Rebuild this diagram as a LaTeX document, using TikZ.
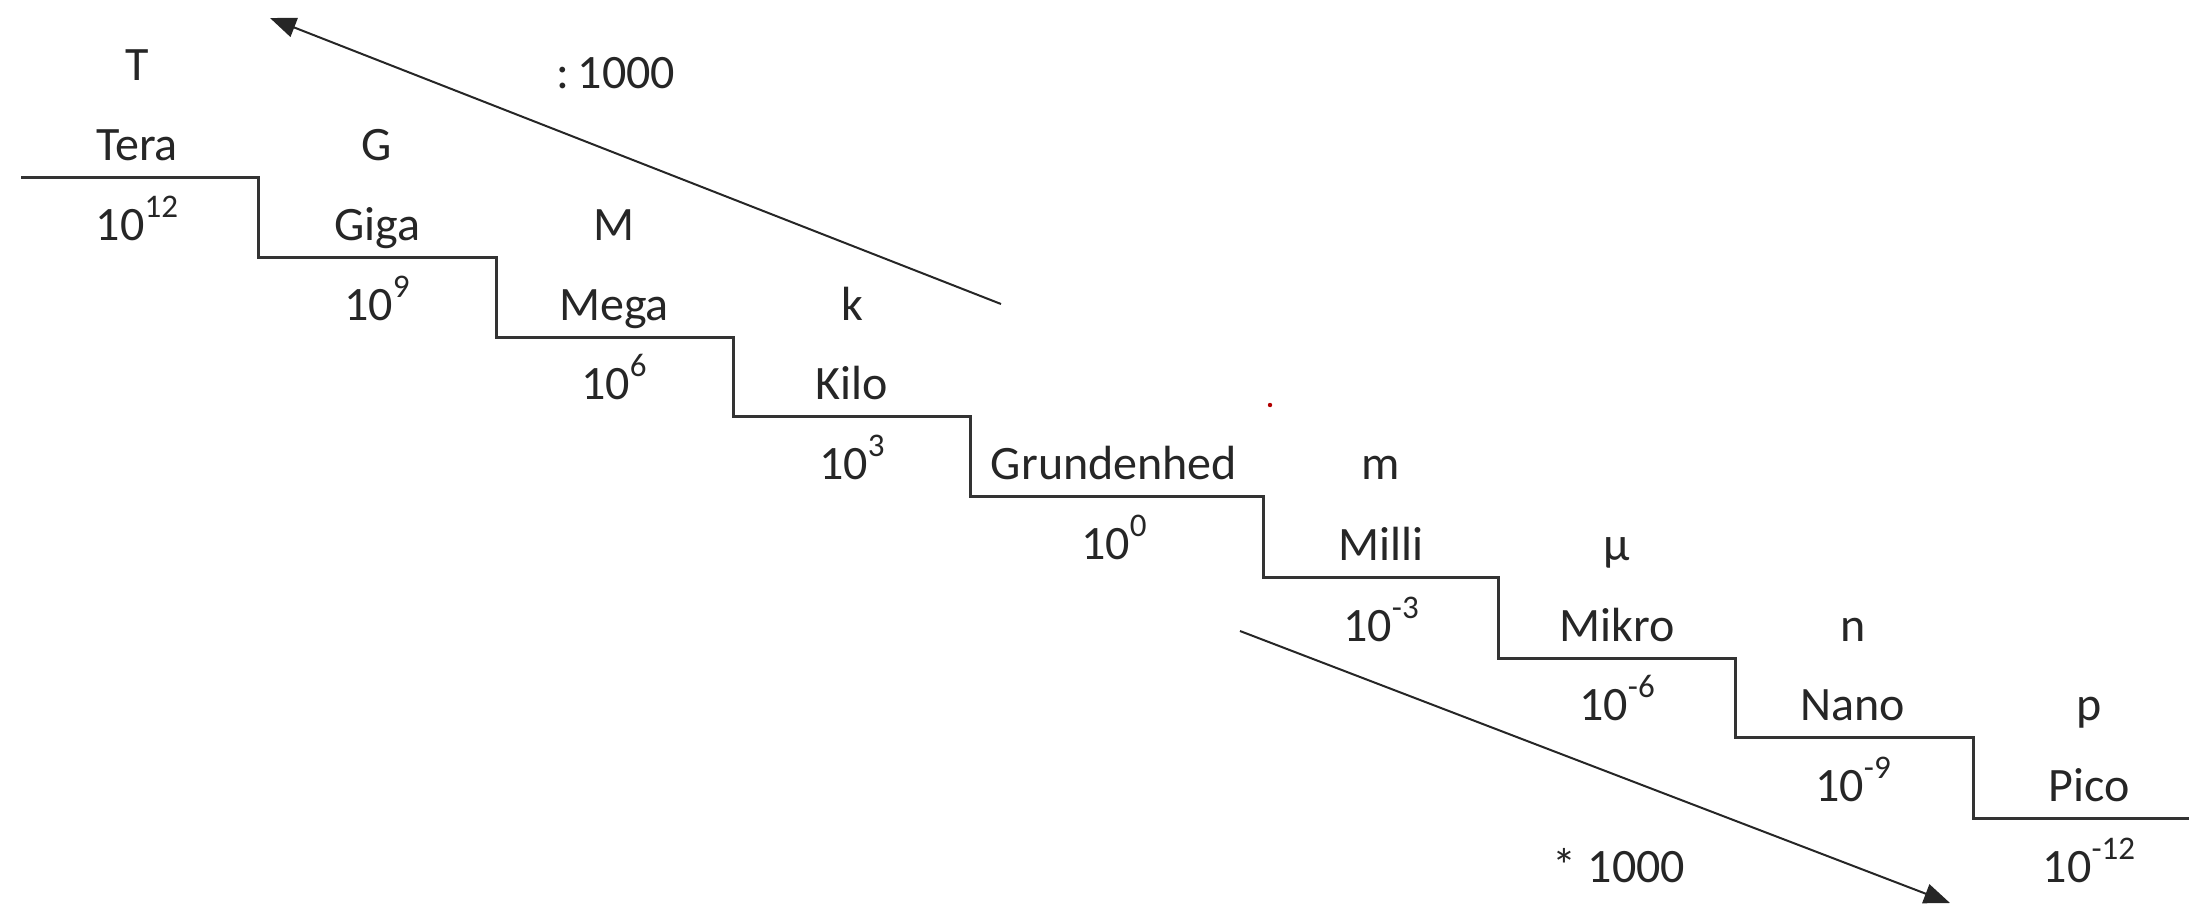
\documentclass[tikz,border=0pt]{standalone}
\usepackage{fontspec}
\setmainfont{Carlito}
\usetikzlibrary{arrows.meta}
\newcommand{\mysup}[1]{\raisebox{23pt}{\fontsize{33}{33}\selectfont #1}}
\begin{document}
\begin{tikzpicture}[x=1pt,y=-1pt,
  lbl/.style={anchor=base,inner sep=0pt,font=\fontsize{48}{58}\selectfont,text=black!85},
  stair/.style={line width=3pt,draw=black!80},
  arr/.style={line width=2pt,draw=black!85,-{Triangle[length=26pt,width=20pt]}}]
\useasboundingbox (0,0) rectangle (2189,906);
% staircase corners
\coordinate (s0) at (21,177);
\coordinate (s1a) at (258,177); \coordinate (s1b) at (258,257);
\coordinate (s2a) at (496,257); \coordinate (s2b) at (496,337);
\coordinate (s3a) at (733,337); \coordinate (s3b) at (733,416);
\coordinate (s4a) at (970,416); \coordinate (s4b) at (970,496);
\coordinate (s5a) at (1263,496); \coordinate (s5b) at (1263,577);
\coordinate (s6a) at (1498,577); \coordinate (s6b) at (1498,658);
\coordinate (s7a) at (1735,658); \coordinate (s7b) at (1735,737);
\coordinate (s8a) at (1973,737); \coordinate (s8b) at (1973,818);
\coordinate (s9) at (2189,818);
\draw[stair] (s0) -- (s1a) -- (s1b) -- (s2a) -- (s2b) -- (s3a) -- (s3b) -- (s4a) -- (s4b) -- (s5a) -- (s5b) -- (s6a) -- (s6b) -- (s7a) -- (s7b) -- (s8a) -- (s8b) -- (s9);
% labels: symbol, name, exponent
\node[lbl] (tT) at (137,80) {T};
\node[lbl] (tN) at (137,160) {Tera};
\node[lbl] (tE) at (137,240) {10\mysup{12}};
\node[lbl] (gT) at (377,160) {G};
\node[lbl] (gN) at (377,240) {Giga};
\node[lbl] (gE) at (377,320) {10\mysup{9}};
\node[lbl] (mT) at (614,240) {M};
\node[lbl] (mN) at (614,320) {Mega};
\node[lbl] (mE) at (614,399) {10\mysup{6}};
\node[lbl] (kT) at (852,320) {k};
\node[lbl] (kN) at (852,399) {Kilo};
\node[lbl] (kE) at (852,479) {10\mysup{3}};
\node[lbl] (bN) at (1114,479) {Grundenhed};
\node[lbl] (bE) at (1114,559) {10\mysup{0}};
\node[lbl] (miT) at (1381,479) {m};
\node[lbl] (miN) at (1381,560) {Milli};
\node[lbl] (miE) at (1381,641) {10\mysup{-3}};
\node[lbl] (uT) at (1617,560) {µ};
\node[lbl] (uN) at (1617,641) {Mikro};
\node[lbl] (uE) at (1617,720) {10\mysup{-6}};
\node[lbl] (nT) at (1853,641) {n};
\node[lbl] (nN) at (1853,720) {Nano};
\node[lbl] (nE) at (1853,801) {10\mysup{-9}};
\node[lbl] (pT) at (2089,720) {p};
\node[lbl] (pN) at (2089,801) {Pico};
\node[lbl] (pE) at (2089,882) {10\mysup{-12}};
% arrows
\coordinate (a1s) at (1001,304);
\coordinate (a1e) at (270,18);
\draw[arr] (a1s) -- (a1e);
\node[lbl] (div) at (616,88) {:\,1000};
\coordinate (a2s) at (1240,631);
\coordinate (a2e) at (1950,903);
\draw[arr] (a2s) -- (a2e);
\node[lbl] (mul) at (1619,882) {* 1000};
% small red dot
\fill[red!70!black] (1270,405) circle (2.2pt);
\end{tikzpicture}
\end{document}
